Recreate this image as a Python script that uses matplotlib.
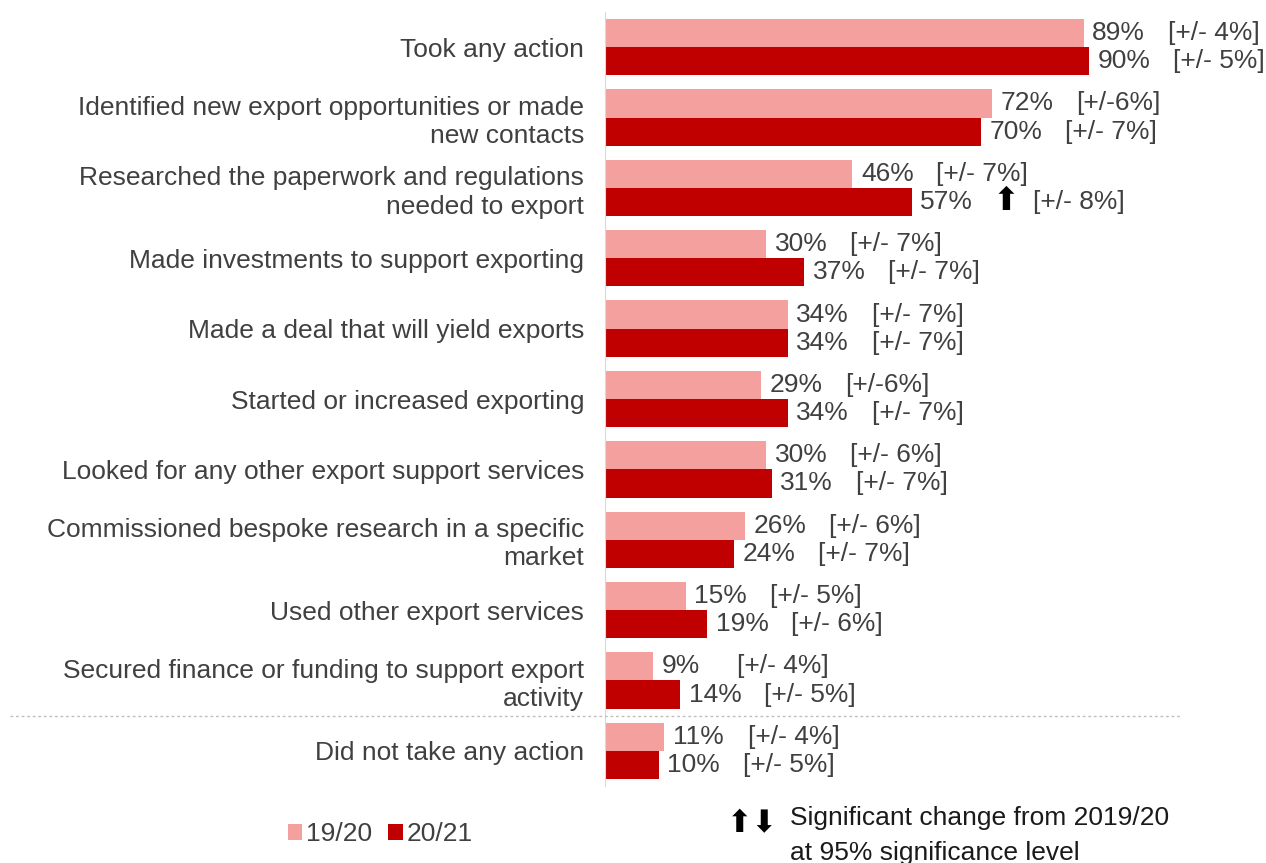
import matplotlib.pyplot as plt
from matplotlib.lines import Line2D
from matplotlib import transforms

plt.rcParams['font.family'] = ['Liberation Sans', 'DejaVu Sans']

actions = [
    'Took any action',
    'Identified new export opportunities or made\nnew contacts',
    'Researched the paperwork and regulations\nneeded to export',
    'Made investments to support exporting',
    'Made a deal that will yield exports',
    'Started or increased exporting',
    'Looked for any other export support services',
    'Commissioned bespoke research in a specific\nmarket',
    'Used other export services',
    'Secured finance or funding to support export\nactivity',
    'Did not take any action',
]
pct_1920 = [89, 72, 46, 30, 34, 29, 30, 26, 15, 9, 11]
pct_2021 = [90, 70, 57, 37, 34, 34, 31, 24, 19, 14, 10]
moe_1920 = ['[+/- 4%]', '[+/-6%]', '[+/- 7%]', '[+/- 7%]', '[+/- 7%]', '[+/-6%]',
            '[+/- 6%]', '[+/- 6%]', '[+/- 5%]', '[+/- 4%]', '[+/- 4%]']
moe_2021 = ['[+/- 5%]', '[+/- 7%]', '[+/- 8%]', '[+/- 7%]', '[+/- 7%]', '[+/- 7%]',
            '[+/- 7%]', '[+/- 7%]', '[+/- 6%]', '[+/- 5%]', '[+/- 5%]']
# significant change markers for 20/21 ('up', 'down' or '')
sig_2021 = ['', '', 'up', '', '', '', '', '', '', '', '']

light = '#F4A09F'
dark = '#C00000'
txt = '#404040'
fs = 19

fig = plt.figure(figsize=(12.66, 8.63), dpi=100)
ax = fig.add_axes([605 / 1266, 1 - 786 / 863, 1 - 605 / 1266, (786 - 12) / 863])

y = list(range(len(actions)))
h = 0.4
b1 = ax.barh([i - h / 2 for i in y], pct_1920, height=h, color=light, label='19/20')
b2 = ax.barh([i + h / 2 for i in y], pct_2021, height=h, color=dark, label='20/21')

ax.set_xlim(0, 122.9)
ax.set_ylim(len(actions) - 0.5, -0.5)
ax.set_xticks([])
ax.set_yticks(y)
ax.set_yticklabels(actions, fontsize=fs, color=txt, linespacing=1.22)
ax.tick_params(axis='y', length=0, pad=15)
for s in ['top', 'right', 'bottom']:
    ax.spines[s].set_visible(False)
ax.spines['left'].set_color('#d9d9d9')

gap = 14  # distance from value label to margin of error label
for i in y:
    for off, v, m in [(-h / 2, pct_1920[i], moe_1920[i]), (h / 2, pct_2021[i], moe_2021[i])]:
        ax.text(v + 1.6, i + off, f'{v}%', va='center', ha='left', fontsize=fs, color=txt)
        extra = 0
        if off > 0 and sig_2021[i]:
            arrow = '\u2B06' if sig_2021[i] == 'up' else '\u2B07'
            ax.text(v + 1.6 + 13.5, i + off, arrow, va='center', ha='left',
                    fontsize=23, color='black', family='DejaVu Sans')
            extra = 7
        ax.text(v + 1.6 + gap + extra, i + off, m, va='center', ha='left', fontsize=fs, color=txt)

# separator above the last category
tr = transforms.blended_transform_factory(fig.transFigure, ax.transData)
fig.add_artist(Line2D([10 / 1266, 1180 / 1266], [len(actions) - 1.5] * 2, transform=tr,
                      color='#bfbfbf', lw=1, ls=(0, (2, 2))))

fig.legend(handles=[b1, b2], loc='center left', bbox_to_anchor=(264 / 1266, 1 - 834 / 863),
           ncol=2, frameon=False, fontsize=fs, handlelength=0.55, handleheight=0.55,
           handletextpad=0.15, columnspacing=0.6, labelcolor='#404040')

fig.text(727 / 1266, 1 - 824 / 863, '\u2B06\u2B07', fontsize=22, color='black',
         family='DejaVu Sans', va='center', ha='left')
fig.text(790 / 1266, 1 - 818 / 863, 'Significant change from 2019/20', fontsize=fs,
         color='#1a1a1a', va='center', ha='left')
fig.text(790 / 1266, 1 - 853 / 863, 'at 95% significance level', fontsize=fs,
         color='#1a1a1a', va='center', ha='left')

fig.savefig('out.png', dpi=100, facecolor='white')
